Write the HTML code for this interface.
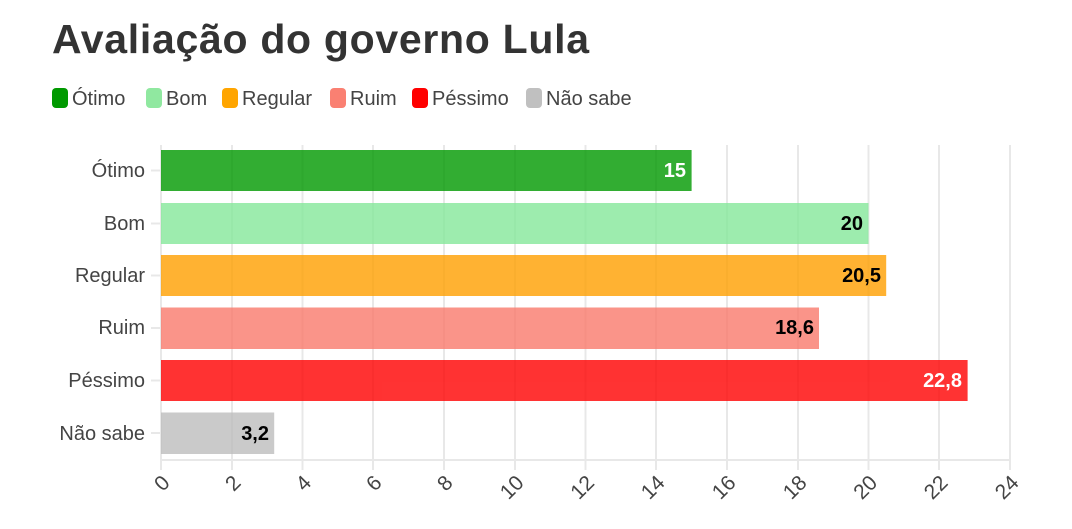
<!DOCTYPE html>
<html><head><meta charset="utf-8"><style>
html,body{margin:0;padding:0;background:#fff;width:1072px;height:529px;overflow:hidden}
svg text{font-family:"Liberation Sans",sans-serif}
</style></head><body>
<svg width="1072" height="529" xmlns="http://www.w3.org/2000/svg">
<text x="52" y="53" font-size="41" font-weight="bold" fill="#333" letter-spacing="0.7">Avaliação do governo Lula</text>
<g font-size="20" fill="#444">
<rect x="52" y="88" width="16" height="20" rx="4" fill="#009900"/><text x="72" y="105">Ótimo</text>
<rect x="146" y="88" width="16" height="20" rx="4" fill="#90e8a0"/><text x="166" y="105">Bom</text>
<rect x="222" y="88" width="16" height="20" rx="4" fill="#ffa500"/><text x="242" y="105">Regular</text>
<rect x="330" y="88" width="16" height="20" rx="4" fill="#fa8072"/><text x="350" y="105">Ruim</text>
<rect x="412" y="88" width="16" height="20" rx="4" fill="#ff0000"/><text x="432" y="105">Péssimo</text>
<rect x="526" y="88" width="16" height="20" rx="4" fill="#c0c0c0"/><text x="546" y="105">Não sabe</text>
</g>
<g stroke="#e8e8e8" stroke-width="2">
<line x1="161" y1="145" x2="161" y2="470"/><line x1="232" y1="145" x2="232" y2="470"/><line x1="302.5" y1="145" x2="302.5" y2="470"/><line x1="373" y1="145" x2="373" y2="470"/><line x1="444" y1="145" x2="444" y2="470"/><line x1="515" y1="145" x2="515" y2="470"/><line x1="585.5" y1="145" x2="585.5" y2="470"/><line x1="656" y1="145" x2="656" y2="470"/><line x1="727" y1="145" x2="727" y2="470"/><line x1="798" y1="145" x2="798" y2="470"/><line x1="868.5" y1="145" x2="868.5" y2="470"/><line x1="939" y1="145" x2="939" y2="470"/><line x1="1010" y1="145" x2="1010" y2="470"/>
<line x1="161" y1="460" x2="1010" y2="460"/>
<line x1="151" y1="170.5" x2="161" y2="170.5"/><line x1="151" y1="223.5" x2="161" y2="223.5"/><line x1="151" y1="275.5" x2="161" y2="275.5"/><line x1="151" y1="328" x2="161" y2="328"/><line x1="151" y1="380.5" x2="161" y2="380.5"/><line x1="151" y1="433" x2="161" y2="433"/>
</g>
<g opacity="0.8">
<rect x="161" y="150" width="530.6" height="41" fill="#009900"/>
<rect x="161" y="203" width="707.5" height="41" fill="#85e89a"/>
<rect x="161" y="255" width="725.2" height="41" fill="#ffa000"/>
<rect x="161" y="307.5" width="658" height="41.5" fill="#fa7a6c"/>
<rect x="161" y="360" width="806.6" height="41" fill="#ff0000"/>
<rect x="161" y="412.5" width="113.2" height="41.5" fill="#bdbdbd"/>
</g>
<g font-size="20" fill="#444" text-anchor="end">
<text x="145" y="177">Ótimo</text><text x="145" y="230">Bom</text><text x="145" y="282">Regular</text><text x="145" y="334">Ruim</text><text x="145" y="387">Péssimo</text><text x="145" y="440">Não sabe</text>
</g>
<g font-size="20" font-weight="bold" text-anchor="end">
<text x="686" y="177" fill="#fff">15</text>
<text x="863" y="230" fill="#000">20</text>
<text x="881" y="282" fill="#000">20,5</text>
<text x="814" y="334" fill="#000">18,6</text>
<text x="962" y="387" fill="#fff">22,8</text>
<text x="269" y="440" fill="#000">3,2</text>
</g>
<g font-size="21" fill="#444" text-anchor="end">
<text transform="translate(171,484) rotate(-45)">0</text>
<text transform="translate(242,484) rotate(-45)">2</text>
<text transform="translate(312.5,484) rotate(-45)">4</text>
<text transform="translate(383,484) rotate(-45)">6</text>
<text transform="translate(454,484) rotate(-45)">8</text>
<text transform="translate(525,484) rotate(-45)">10</text>
<text transform="translate(595.5,484) rotate(-45)">12</text>
<text transform="translate(666,484) rotate(-45)">14</text>
<text transform="translate(737,484) rotate(-45)">16</text>
<text transform="translate(808,484) rotate(-45)">18</text>
<text transform="translate(878.5,484) rotate(-45)">20</text>
<text transform="translate(949,484) rotate(-45)">22</text>
<text transform="translate(1020,484) rotate(-45)">24</text>
</g>
</svg>
</body></html>
